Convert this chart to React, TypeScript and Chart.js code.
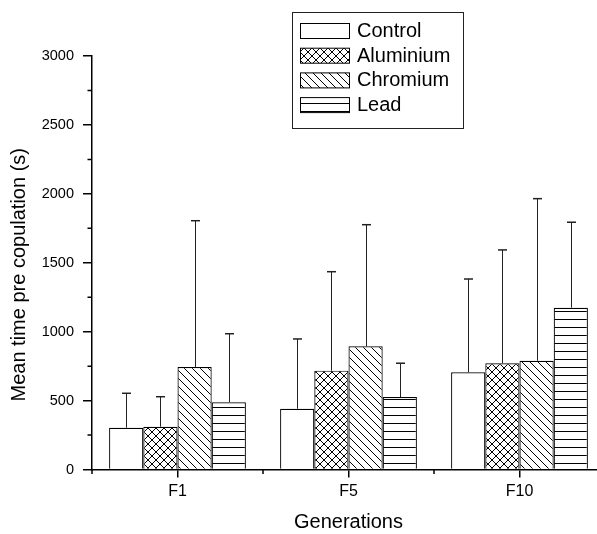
import React, { useEffect, useRef } from "react";
import { Chart, registerables } from "chart.js";

Chart.register(...registerables);

// ---- data ----
const generations = ["F1", "F5", "F10"];
const seriesNames = ["Control", "Aluminium", "Chromium", "Lead"];
const controlMean = [303, 441, 705];
const controlSd = [250, 506, 677];
const aluminiumMean = [310, 717, 771];
const aluminiumSd = [218, 718, 822];
const chromiumMean = [744, 894, 789];
const chromiumSd = [1061, 882, 1176];
const leadMean = [488, 526, 1174];
const leadSd = [497, 245, 620];
const yMajorTicks = [0, 500, 1000, 1500, 2000, 2500, 3000];
const yMinorTicks = [250, 750, 1250, 1750, 2250, 2750];
const xTitle = "Generations";
const yTitle = "Mean time pre copulation (s)";

const means = [controlMean, aluminiumMean, chromiumMean, leadMean];
const sds = [controlSd, aluminiumSd, chromiumSd, leadSd];
const patternKinds = ["none", "cross", "back", "horiz"];

const FONT = "'Liberation Sans', Arial, Helvetica, sans-serif";

function makePattern(kind: string): CanvasPattern | string {
  if (kind === "none") return "#ffffff";
  const s = 8;
  const c = document.createElement("canvas");
  c.width = s;
  c.height = s;
  const g = c.getContext("2d")!;
  g.fillStyle = "#ffffff";
  g.fillRect(0, 0, s, s);
  g.strokeStyle = "#000000";
  g.lineWidth = 1;
  g.beginPath();
  if (kind === "back" || kind === "cross") {
    g.moveTo(-1, -1);
    g.lineTo(s + 1, s + 1);
    g.moveTo(-1, s - 1);
    g.lineTo(1, s + 1);
    g.moveTo(s - 1, -1);
    g.lineTo(s + 1, 1);
  }
  if (kind === "cross") {
    g.moveTo(-1, s + 1);
    g.lineTo(s + 1, -1);
    g.moveTo(-1, 1);
    g.lineTo(1, -1);
    g.moveTo(s - 1, s + 1);
    g.lineTo(s + 1, s - 1);
  }
  if (kind === "horiz") {
    g.moveTo(0, s - 0.5);
    g.lineTo(s, s - 0.5);
  }
  g.stroke();
  return g.createPattern(c, "repeat")!;
}

export default function App() {
  const ref = useRef<HTMLCanvasElement | null>(null);

  useEffect(() => {
    if (!ref.current) return;
    const patterns = patternKinds.map(makePattern);

    const decor = {
      id: "decor",
      afterDatasetsDraw(chart: any) {
        const ctx = chart.ctx;
        const y = chart.scales.y;
        ctx.save();
        // error bars (upper only)
        chart.data.datasets.forEach((ds: any, i: number) => {
          const meta = chart.getDatasetMeta(i);
          meta.data.forEach((bar: any, j: number) => {
            const top = y.getPixelForValue(means[i][j] + sds[i][j]);
            const x = Math.round(bar.x) + 0.5;
            ctx.strokeStyle = "#222";
            ctx.lineWidth = 1;
            ctx.beginPath();
            ctx.moveTo(x, bar.y);
            ctx.lineTo(x, top);
            ctx.stroke();
            ctx.lineWidth = 1.5;
            ctx.beginPath();
            ctx.moveTo(x - 4.5, top);
            ctx.lineTo(x + 4.5, top);
            ctx.stroke();
          });
        });
        ctx.restore();
      },
      afterDraw(chart: any) {
        const ctx = chart.ctx;
        const xs = chart.scales.x;
        const ys = chart.scales.y;
        const area = chart.chartArea;
        ctx.save();
        ctx.strokeStyle = "#000";
        ctx.lineWidth = 1.5;
        // y minor ticks
        ctx.beginPath();
        yMinorTicks.forEach((v) => {
          const py = ys.getPixelForValue(v);
          ctx.moveTo(area.left - 4.5, py);
          ctx.lineTo(area.left, py);
        });
        // x minor ticks at category boundaries
        const n = generations.length;
        const step = xs.getPixelForValue(1) - xs.getPixelForValue(0);
        for (let i = 0; i <= n; i++) {
          const px = xs.getPixelForValue(0) - step / 2 + i * step;
          ctx.moveTo(px, area.bottom);
          ctx.lineTo(px, area.bottom + 4.5);
        }
        ctx.stroke();

        // y title
        ctx.fillStyle = "#000";
        ctx.font = `20px ${FONT}`;
        ctx.textAlign = "center";
        ctx.textBaseline = "alphabetic";
        ctx.save();
        ctx.translate(25, (area.top + area.bottom) / 2 + 12);
        ctx.rotate(-Math.PI / 2);
        ctx.fillText(yTitle, 0, 0);
        ctx.restore();

        // legend
        const bx = 292.5;
        const by = 12.5;
        ctx.strokeStyle = "#222";
        ctx.lineWidth = 1;
        ctx.strokeRect(bx, by, 171, 116);
        ctx.textAlign = "left";
        ctx.textBaseline = "middle";
        chart.data.datasets.forEach((ds: any, i: number) => {
          const sy = 23.5 + i * 24.7;
          ctx.fillStyle = ds.backgroundColor;
          ctx.fillRect(300.5, sy, 49, 15);
          ctx.strokeStyle = "#000";
          ctx.lineWidth = 1;
          ctx.strokeRect(300.5, sy, 49, 15);
          ctx.fillStyle = "#000";
          ctx.fillText(ds.label, 357, sy + 8);
        });
        ctx.restore();
      },
    };

    const chart = new Chart(ref.current, {
      type: "bar",
      data: {
        labels: generations,
        datasets: seriesNames.map((name, i) => ({
          label: name,
          data: means[i],
          backgroundColor: patterns[i] as any,
          borderColor: "#000",
          borderWidth: 1.2,
          categoryPercentage: 0.8,
          barPercentage: 1.0,
        })),
      },
      options: {
        responsive: false,
        animation: false,
        devicePixelRatio: 1,
        layout: { padding: { left: 0, right: 15, top: 56, bottom: 0 } },
        plugins: {
          legend: { display: false },
          tooltip: { enabled: false },
        },
        scales: {
          x: {
            z: 1,
            grid: {
              offset: false,
              drawOnChartArea: false,
              color: "#000",
              lineWidth: 1.5,
              tickLength: 8,
            },
            border: { color: "#000", width: 1.5 },
            ticks: {
              color: "#000",
              font: { family: FONT, size: 16 },
              padding: 4,
            },
            title: {
              display: true,
              text: xTitle,
              color: "#000",
              font: { family: FONT, size: 20 },
              padding: 0,
            },
            afterFit: (s: any) => {
              s.height = 64.5;
            },
          },
          y: {
            z: 1,
            min: 0,
            max: 3000,
            afterBuildTicks: (s: any) => {
              s.ticks = yMajorTicks.map((v) => ({ value: v }));
            },
            grid: {
              drawOnChartArea: false,
              color: "#000",
              lineWidth: 1.5,
              tickLength: 9,
            },
            border: { color: "#000", width: 1.5 },
            ticks: {
              color: "#000",
              font: { family: FONT, size: 14.5 },
              padding: 9,
              callback: (v: any) => String(v),
            },
            afterFit: (s: any) => {
              s.width = 92;
            },
          },
        },
      },
      plugins: [decor],
    });
    return () => chart.destroy();
  }, []);

  return (
    <div
      style={{
        position: "fixed",
        left: 0,
        top: 0,
        width: 597,
        height: 534,
        overflow: "hidden",
        background: "#fff",
      }}
    >
      <canvas ref={ref} width={620} height={534} style={{ width: 620, height: 534, display: "block" }} />
    </div>
  );
}
